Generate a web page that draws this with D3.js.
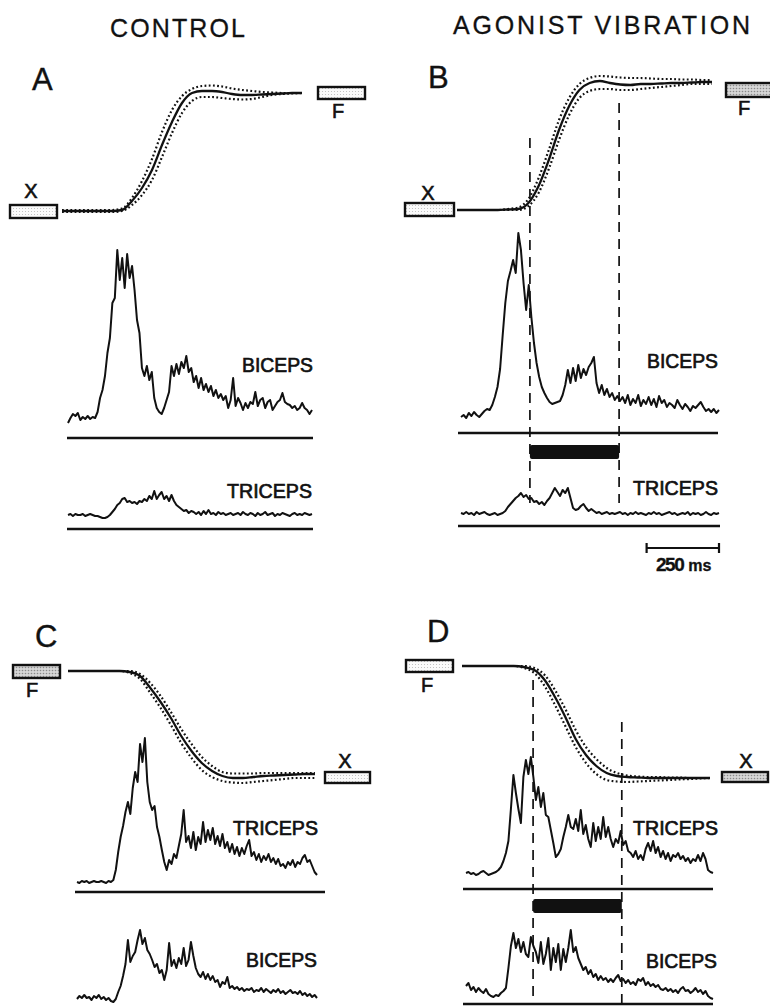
<!DOCTYPE html>
<html>
<head>
<meta charset="utf-8">
<script src="https://cdnjs.cloudflare.com/ajax/libs/d3/7.8.5/d3.min.js"></script>
<style>
  body { margin: 0; background: #fff; }
  svg { display: block; }
  text { font-family: "Liberation Sans", Arial, sans-serif; fill: #111; stroke: #111; stroke-width: 0.5px; }
</style>
</head>
<body>
<script>
var titles = ["CONTROL", "AGONIST VIBRATION"];
var panelNames = ["A", "B", "C", "D"];
var sampleMs = 9;           // one EMG sample every 9 ms
var scaleBarMs = 250;
var scaleBarLabel = "250";
var scaleBarUnit = "ms";
var vibB = [238, 546];      // vibration on / off, ms
var vibD = [242, 562];

// elbow position, mean and +/- SD (arbitrary units)
var posA_mean  = [0,0,0,0,0,0,1,10,23,41,66,89,108,118,120,120,119,117,116,116,116.5,117,117.5,118,118];
var posA_upper = [1,1,1,1,1,1,2.5,13,30,52,79,101,115,122,125,125.5,124.5,122.5,121,120,119,118.5,118,118,118];
var posA_lower = [-1,-1,-1,-1,-1,-1,0,6,16,31,54,78,98,110,114,114,113,112,111.5,112,114,116,117,117.5,118];

var posB_mean  = [0,0,0,0,0,0.5,1,7,24,50,80,104,120,127,129,127,125.5,125,126,126,126.5,127,127,127.5,128,128];
var posB_upper = [0,0,0,0,0,1,2.5,11,32,60,90,112,126,132,134,133.5,132.5,132,132,131.5,131,131,130.5,130.5,130,130];
var posB_lower = [0,0,0,0,0,0,0,4,17,41,70,95,112,119,121,121,120,120,121,122,123,124,125,126,126,126];

var posC_mean  = [104,104,104,104,104,104,103,99,87,73,57,39,24,12,4,-1,-3,-3,-2,-1,-0.5,0,0.5,1,1];
var posC_upper = [104,104,104,104,104,104,104,101,92,79,63,46,31,18,9,3,1.5,1.5,1.5,2,2,2,2,2,2];
var posC_lower = [104,104,104,104,104,104,102,96,82,67,50,32,17,5,-2,-6,-7.5,-8,-7,-6,-5,-4,-3,-3,-3];

var posD_mean  = [112,112,112,112,112,112,111,108,98,81,61,39,23,12,5,2,1,0.5,0,0,0,0,0,0,0];
var posD_upper = [112,112,112,112,112,112,112,110,103,88,69,48,31,19,10,5,2.5,1.5,1,1,0.5,0.5,0,0,0];
var posD_lower = [112,112,112,112,112,112,110,105,92,73,52,31,15,4,-2,-3.5,-4,-3.5,-3,-2.5,-2,-1.5,-1,-0.5,0];

// rectified EMG (arbitrary units)
var emgA_biceps = [15,20,24,22,25,18,21,19,22,19, 21,20,26,40,48,62,85,100,135,140,
  188,158,180,150,184,160,172,148,118,105, 70,62,72,58,66,40,30,26,24,30,
  38,46,72,62,74,64,76,70,82,66, 70,56,62,50,60,48,54,46,52,42,
  48,40,44,38,42,30,38,60,32,40, 35,28,35,30,36,34,46,32,38,40,
  30,36,38,28,32,36,38,45,36,34, 33,30,32,28,30,35,30,28,24,28];
var emgA_triceps = [14,15,13,15,14,14,15,13,14,15, 14,13,13,12,11,11,12,14,17,20,
  24,26,30,31,27,28,26,27,25,28, 27,30,28,33,30,38,30,34,37,30,
  33,28,34,28,24,22,20,18,19,16, 18,17,15,17,14,18,15,19,15,16,
  14,17,15,16,14,15,16,14,15,16, 14,17,15,14,16,15,13,16,14,15,
  17,14,15,16,13,15,14,16,15,14, 13,15,16,14,15,14,16,15,14,15];
var emgB_biceps = [16,18,15,20,17,21,18,16,19,22, 24,23,28,36,46,64,98,130,152,162,
  173,160,200,183,150,123,148,116,90,70, 56,46,40,35,31,29,30,31,32,38,
  48,63,50,65,52,68,55,64,58,66, 70,76,50,40,48,38,44,36,40,33,
  37,32,36,30,38,28,34,30,38,27, 33,29,36,28,34,26,37,30,33,26,
  30,28,25,33,28,24,29,26,22,27, 25,28,31,26,22,24,21,24,20,23];
var emgB_triceps = [13,12,14,12,13,11,14,12,13,14, 12,11,12,13,11,12,13,15,19,22,
  25,28,30,33,29,31,27,28,24,25, 22,24,21,25,28,33,38,34,30,36,
  33,38,28,18,16,17,20,22,18,15, 17,15,13,14,12,13,14,12,13,12,
  13,14,12,13,11,13,12,14,12,13, 12,11,13,12,14,12,13,11,12,13,
  14,12,13,11,12,13,12,14,11,13, 12,13,11,12,14,12,11,13,12,13];
var emgC_triceps = [10,9,11,10,11,9,10,11,10,10, 11,10,9,11,10,12,22,40,55,66,
  80,90,78,104,120,110,148,130,154,110, 90,82,86,65,55,42,30,22,32,28,
  38,34,46,58,82,50,56,44,60,42, 55,48,70,50,62,52,64,48,56,46,
  58,44,50,40,48,38,45,36,44,38, 46,52,36,40,32,38,30,36,32,38,
  30,34,28,33,26,28,24,30,27,32, 25,30,28,34,37,30,32,26,20,17];
var emgC_biceps = [5,8,6,9,6,7,4,8,6,9, 5,7,4,6,3,2,5,12,18,28,
  40,64,42,48,52,64,74,60,66,54, 50,44,37,40,31,34,24,34,61,38,
  44,36,46,40,56,38,44,62,48,36, 30,27,32,25,30,24,28,22,24,17,
  22,20,27,16,18,15,17,14,16,13, 15,14,16,12,14,13,16,12,15,13,
  11,14,12,15,11,13,10,12,14,11, 12,10,13,9,11,8,10,7,9,6];
var emgD_triceps = [16,17,15,16,14,15,17,18,16,14, 15,16,17,19,22,28,36,48,80,114,
  96,80,66,112,129,115,132,112,89,102, 82,96,74,72,59,46,32,35,40,52,
  62,74,62,60,70,58,79,55,64,50, 42,66,48,62,50,72,52,62,50,42,
  50,46,58,44,48,38,36,32,38,30, 34,29,40,46,38,48,36,42,32,38,
  30,36,28,34,32,36,30,33,28,31, 26,30,28,34,28,36,30,19,17,16];
var emgD_biceps = [18,21,14,17,12,16,13,11,15,10, 8,7,9,8,11,13,16,36,58,71,
  56,65,52,62,50,47,67,58,52,41, 62,40,50,66,34,56,42,60,34,55,
  42,56,74,52,57,46,40,34,37,30, 34,27,30,24,28,24,26,22,25,22,
  26,29,23,25,21,24,20,22,19,25, 23,26,19,22,18,20,17,19,15,14,
  16,13,15,12,14,11,15,17,13,14, 11,13,16,12,14,10,13,8,6,5];

var width = 770, height = 1006;

var svg = d3.select("body").append("svg")
    .attr("width", width)
    .attr("height", height);

var defs = svg.append("defs");
function stipple(id, bg, dot, r) {
  var p = defs.append("pattern")
      .attr("id", id)
      .attr("width", 3).attr("height", 3)
      .attr("patternUnits", "userSpaceOnUse");
  p.append("rect").attr("width", 3).attr("height", 3).attr("fill", bg);
  p.append("circle").attr("cx", 1.5).attr("cy", 1.5).attr("r", r).attr("fill", dot);
}
stipple("light", "#fafafa", "#b8b8b8", 0.55);
stipple("grey", "#d6d6d6", "#8a8a8a", 0.8);

// layout of the four panels
var panels = [
  { name: "A", letter: [32, 90],
    emgX: [68, 312],
    pos: [posA_mean, posA_upper, posA_lower], posX: [62, 302], posY: [211, 91], posMax: 120,
    traces: [
      { data: emgA_biceps, base: 438, line: [67, 313], label: "BICEPS", lx: 313, ly: 372 },
      { data: emgA_triceps, base: 529, line: [67, 313], label: "TRICEPS", lx: 312, ly: 498 }
    ],
    boxes: [
      { x: 10, y: 205, w: 47, h: 13, fill: "light", t: "X", tx: 31, ty: 198 },
      { x: 318, y: 87, w: 47, h: 12, fill: "light", t: "F", tx: 338, ty: 118 }
    ] },
  { name: "B", letter: [428, 88],
    emgX: [461, 719],
    pos: [posB_mean, posB_upper, posB_lower], posX: [457, 712], posY: [210, 82], posMax: 128,
    traces: [
      { data: emgB_biceps, base: 433, line: [458, 718], label: "BICEPS", lx: 718, ly: 368 },
      { data: emgB_triceps, base: 526, line: [458, 720], label: "TRICEPS", lx: 718, ly: 495 }
    ],
    vib: vibB, barY: 445, dashTop: [138, 103], dashBottom: 503,
    boxes: [
      { x: 405, y: 203, w: 49, h: 13, fill: "light", t: "X", tx: 428, ty: 200 },
      { x: 726, y: 83, w: 48, h: 14, fill: "grey", t: "F", tx: 744, ty: 115 }
    ] },
  { name: "C", letter: [35, 647],
    emgX: [77, 317],
    pos: [posC_mean, posC_upper, posC_lower], posX: [68, 315], posY: [775, 671], posMax: 104,
    traces: [
      { data: emgC_triceps, base: 892, line: [75, 325], label: "TRICEPS", lx: 318, ly: 835 },
      { data: emgC_biceps, base: 1004, line: null, label: "BICEPS", lx: 317, ly: 967 }
    ],
    boxes: [
      { x: 13, y: 665, w: 47, h: 13, fill: "grey", t: "F", tx: 32, ty: 697 },
      { x: 325, y: 772, w: 45, h: 11, fill: "light", t: "X", tx: 345, ty: 768 }
    ] },
  { name: "D", letter: [427, 642],
    emgX: [466, 713],
    pos: [posD_mean, posD_upper, posD_lower], posX: [462, 710], posY: [778, 666], posMax: 112,
    traces: [
      { data: emgD_triceps, base: 889, line: [463, 713], label: "TRICEPS", lx: 718, ly: 835 },
      { data: emgD_biceps, base: 1004, line: [463, 713], label: "BICEPS", lx: 717, ly: 968 }
    ],
    vib: vibD, barY: 899, dashTop: [680, 722], dashBottom: 1004,
    boxes: [
      { x: 406, y: 660, w: 47, h: 12, fill: "light", t: "F", tx: 427, ty: 692 },
      { x: 722, y: 772, w: 46, h: 10, fill: "grey", t: "X", tx: 746, ty: 768 }
    ] }
];

// column titles
svg.append("text")
    .attr("x", 110).attr("y", 37)
    .attr("textLength", 135).attr("lengthAdjust", "spacing")
    .style("font-size", "25px")
    .style("stroke-width", "0.3px")
    .text(titles[0]);
svg.append("text")
    .attr("x", 453).attr("y", 34)
    .attr("textLength", 297).attr("lengthAdjust", "spacing")
    .style("font-size", "25px")
    .style("stroke-width", "0.3px")
    .text(titles[1]);

panels.forEach(function(p) {
  var g = svg.append("g").attr("class", "panel");

  var x = d3.scaleLinear().domain([0, 99 * sampleMs]).range(p.emgX);

  g.append("text")
      .attr("x", p.letter[0]).attr("y", p.letter[1])
      .style("font-size", "31px")
      .style("stroke-width", "0.4px")
      .text(p.name);

  // position traces
  var px = d3.scaleLinear().domain([0, p.pos[0].length - 1]).range(p.posX);
  var py = d3.scaleLinear().domain([0, p.posMax]).range(p.posY);
  var posLine = d3.line()
      .x(function(d, i) { return px(i); })
      .y(function(d) { return py(d); })
      .curve(d3.curveMonotoneX);

  g.selectAll(".sd")
      .data([p.pos[1], p.pos[2]])
    .enter().append("path")
      .attr("class", "sd")
      .attr("d", posLine)
      .attr("fill", "none")
      .attr("stroke", "#111")
      .attr("stroke-width", 2.2)
      .attr("stroke-dasharray", "1.8,2.4");

  g.append("path")
      .attr("d", posLine(p.pos[0]))
      .attr("fill", "none")
      .attr("stroke", "#111")
      .attr("stroke-width", 2.3);

  // start / end boxes
  p.boxes.forEach(function(b) {
    g.append("rect")
        .attr("x", b.x).attr("y", b.y)
        .attr("width", b.w).attr("height", b.h)
        .attr("fill", "url(#" + b.fill + ")")
        .attr("stroke", "#111")
        .attr("stroke-width", 2.4);
    g.append("text")
        .attr("x", b.tx).attr("y", b.ty)
        .attr("text-anchor", "middle")
        .style("font-size", "20px")
        .style("stroke-width", "0.6px")
        .text(b.t);
  });

  // EMG traces
  p.traces.forEach(function(t) {
    var y = d3.scaleLinear().domain([0, 200]).range([t.base, t.base - 200]);
    var line = d3.line()
        .x(function(d, i) { return x(i * sampleMs); })
        .y(function(d) { return y(d); });

    if (t.line) {
      g.append("line")
          .attr("x1", t.line[0]).attr("x2", t.line[1])
          .attr("y1", y(0)).attr("y2", y(0))
          .attr("stroke", "#111")
          .attr("stroke-width", 2.4);
    }

    g.append("path")
        .attr("d", line(t.data))
        .attr("fill", "none")
        .attr("stroke", "#111")
        .attr("stroke-width", 2)
        .attr("stroke-linejoin", "round");

    g.append("text")
        .attr("x", t.lx).attr("y", t.ly)
        .attr("text-anchor", "end")
        .attr("textLength", t.label.length > 6 ? 85 : 71)
        .attr("lengthAdjust", "spacingAndGlyphs")
        .style("font-size", "21px")
        .style("stroke-width", "0.7px")
        .text(t.label);
  });

  // vibration period
  if (p.vib) {
    g.append("rect")
        .attr("x", x(p.vib[0])).attr("y", p.barY)
        .attr("width", x(p.vib[1]) - x(p.vib[0]))
        .attr("height", 14)
        .attr("rx", 2)
        .attr("fill", "#111");

    g.selectAll(".vdash")
        .data(p.vib)
      .enter().append("line")
        .attr("class", "vdash")
        .attr("x1", function(d) { return x(d); })
        .attr("x2", function(d) { return x(d); })
        .attr("y1", function(d, i) { return p.dashTop[i]; })
        .attr("y2", p.dashBottom)
        .attr("stroke", "#111")
        .attr("stroke-width", 1.7)
        .attr("stroke-dasharray", "10,7");
  }

  // time calibration in panel B
  if (p.name == "B") {
    var x1 = p.emgX[1], x0 = x1 - (x(scaleBarMs) - x(0));
    var sb = g.append("g").attr("class", "scalebar");
    sb.append("line")
        .attr("x1", x0).attr("x2", x1).attr("y1", 548).attr("y2", 548)
        .attr("stroke", "#111").attr("stroke-width", 2.2);
    [x0, x1].forEach(function(v) {
      sb.append("line")
          .attr("x1", v).attr("x2", v).attr("y1", 543).attr("y2", 553)
          .attr("stroke", "#111").attr("stroke-width", 2.2);
    });
    var lab = sb.append("text")
        .attr("x", 656).attr("y", 571)
        .style("font-weight", "bold")
        .style("stroke-width", "0.3px");
    lab.append("tspan").style("font-size", "19px").attr("letter-spacing", "-1.5").text(scaleBarLabel);
    lab.append("tspan").attr("dx", 5).style("font-size", "16px").text(scaleBarUnit);
  }
});
</script>
</body>
</html>
